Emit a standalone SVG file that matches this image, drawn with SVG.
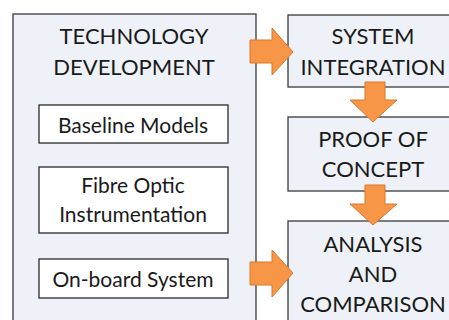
<svg xmlns="http://www.w3.org/2000/svg" width="449" height="320" viewBox="0 0 449 320">
<defs>
<style>
.box{fill:#eef2f8;stroke:#3a3a3a;stroke-width:1.3}
.inner{fill:#ffffff;stroke:#2a2a2a;stroke-width:1.3}
.t{font-family:Lato,"Open Sans",sans-serif;fill:#1a1a1a;text-anchor:middle}
.big{font-size:22px}
.small{font-size:21px}
.arr{fill:#f79646;stroke:#d9772f;stroke-width:1}
</style>
</defs>
<rect width="449" height="320" fill="#ffffff"/>
<g id="tech-dev">
<rect class="box" x="13" y="14" width="243" height="320"/>
<text class="t big" x="134" y="44">TECHNOLOGY</text>
<text class="t big" x="134" y="75">DEVELOPMENT</text>
</g>
<g id="baseline">
<rect class="inner" x="39" y="105" width="189" height="38"/>
<text class="t small" x="133" y="133">Baseline Models</text>
</g>
<g id="fibre">
<rect class="inner" x="39" y="167" width="189" height="66"/>
<text class="t small" x="133" y="193">Fibre Optic</text>
<text class="t small" x="133" y="222">Instrumentation</text>
</g>
<g id="onboard">
<rect class="inner" x="39" y="259" width="189" height="39"/>
<text class="t small" x="133" y="287">On-board System</text>
</g>
<g id="system-integration">
<rect class="box" x="288" y="15" width="172" height="72"/>
<text class="t big" x="373" y="44">SYSTEM</text>
<text class="t big" x="373" y="75">INTEGRATION</text>
</g>
<g id="proof">
<rect class="box" x="288" y="117" width="172" height="74"/>
<text class="t big" x="373" y="147">PROOF OF</text>
<text class="t big" x="373" y="177">CONCEPT</text>
</g>
<g id="analysis">
<rect class="box" x="288" y="221" width="172" height="120"/>
<text class="t big" x="373" y="252">ANALYSIS</text>
<text class="t big" x="373" y="282">AND</text>
<text class="t big" x="373" y="312">COMPARISON</text>
</g>
<g id="connectors">
<polygon class="arr" points="250,40 272,40 272,28 293,52 272,75 272,63 250,63"/>
<polygon class="arr" points="365,82 385,82 385,100 397,100 373,122 350,100 365,100"/>
<polygon class="arr" points="365,185 385,185 385,204 397,204 373,225 350,204 365,204"/>
<polygon class="arr" points="250,262 272,262 272,250 293,273 272,297 272,285 250,285"/>
</g>
</svg>
